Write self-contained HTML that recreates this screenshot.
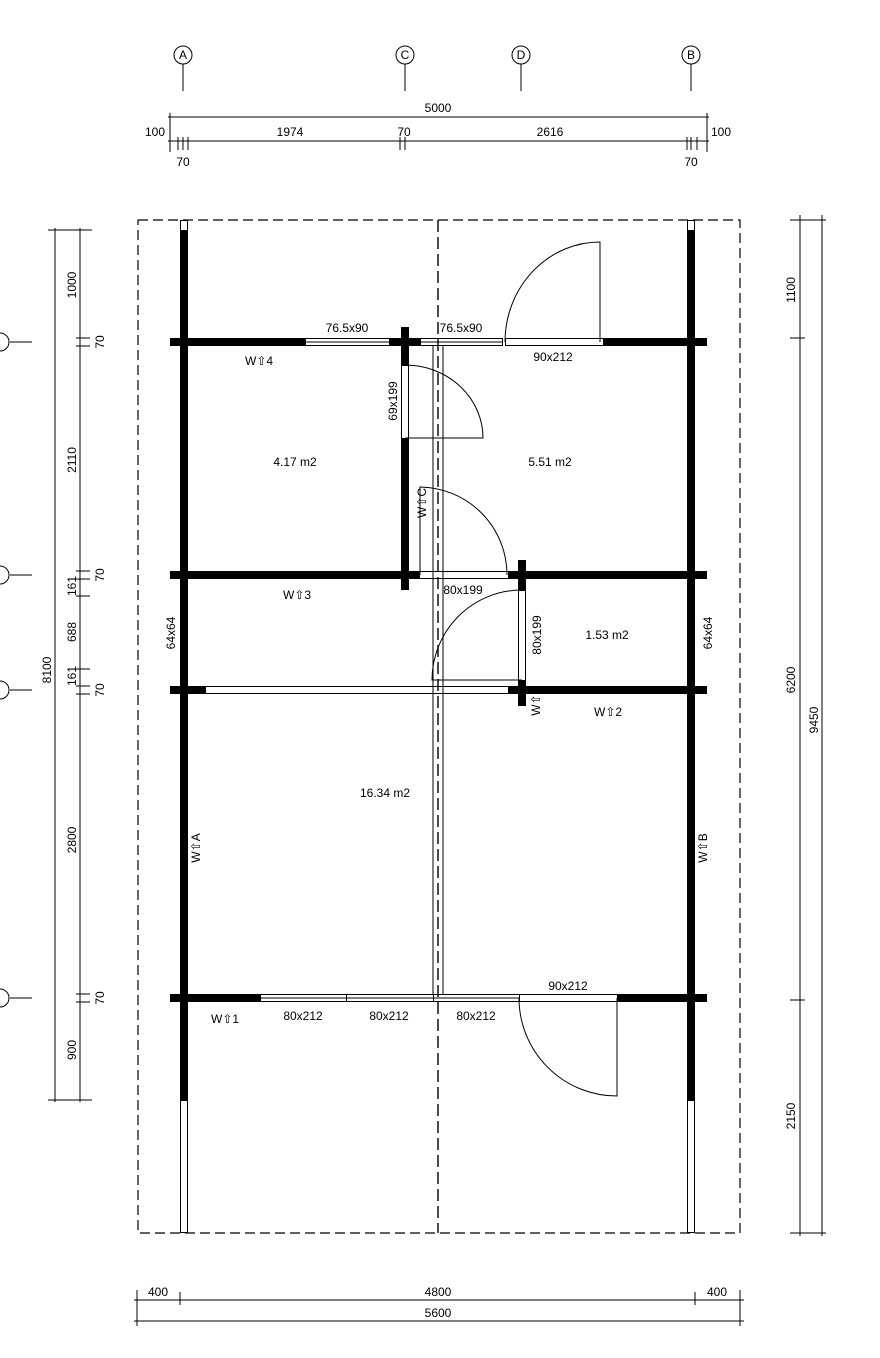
<!DOCTYPE html>
<html><head><meta charset="utf-8"><style>
html,body{margin:0;padding:0;background:#fff}
svg{display:block}
text{font-family:"Liberation Sans Narrow","Liberation Sans",sans-serif;font-size:12px;fill:#000}
</style></head><body>
<svg width="880" height="1358" viewBox="0 0 880 1358" xmlns="http://www.w3.org/2000/svg">
<g fill="none" stroke="#000" stroke-width="1">
<rect x="138" y="220" width="602" height="1013" stroke-dasharray="10,5" stroke-width="1.2"/>
<line x1="438" y1="220" x2="438" y2="1233" stroke-dasharray="12,5" stroke-width="1.4"/>
<line x1="433" y1="346" x2="433" y2="994"/>
<line x1="443" y1="346" x2="443" y2="994"/>
<rect x="180.5" y="220.5" width="7" height="10"/>
<rect x="180.5" y="1100.5" width="7" height="132"/>
<rect x="687.5" y="220.5" width="7" height="10"/>
<rect x="687.5" y="1100.5" width="7" height="132"/>
<rect x="305.5" y="338.5" width="84" height="7"/>
<line x1="305" y1="342" x2="389" y2="342"/>
<rect x="420.5" y="338.5" width="82" height="7"/>
<line x1="420" y1="342" x2="502" y2="342"/>
<rect x="505.5" y="338.5" width="98" height="7"/>
<rect x="401.5" y="365.5" width="7" height="73"/>
<rect x="419.5" y="571.5" width="89" height="7"/>
<rect x="518.5" y="590.5" width="7" height="90"/>
<rect x="205.5" y="686.5" width="303" height="7"/>
<rect x="180.5" y="597.5" width="7" height="71"/>
<line x1="184" y1="597" x2="184" y2="668"/>
<rect x="687.5" y="598.5" width="7" height="70"/>
<line x1="691" y1="598" x2="691" y2="668"/>
<rect x="260.5" y="994.5" width="86" height="7"/><line x1="260" y1="998" x2="346" y2="998"/>
<rect x="346.5" y="994.5" width="87" height="7"/><line x1="346" y1="998" x2="433" y2="998"/>
<rect x="433.5" y="994.5" width="86" height="7"/><line x1="433" y1="998" x2="519" y2="998"/>
<rect x="519.5" y="994.5" width="98" height="7"/>
<path d="M505 342 A95 100 0 0 1 600 242 L600 342"/>
<path d="M405 438 L483 438 A78 73 0 0 0 405 365"/>
<path d="M420 575 L420 487 A88 88 0 0 1 507 575"/>
<path d="M522 590 A90 90 0 0 0 432 680 L522 680"/>
<path d="M519 998 A98 98 0 0 0 617 1096 L617 998"/>
</g>
<g fill="#000">
<rect x="180" y="230" width="8" height="870"/>
<rect x="687" y="230" width="8" height="870"/>
<rect x="170" y="338" width="135" height="8"/>
<rect x="389" y="338" width="31" height="8"/>
<rect x="603" y="338" width="104" height="8"/>
<rect x="401" y="327" width="8" height="38"/>
<rect x="401" y="438" width="8" height="152"/>
<rect x="170" y="571" width="249" height="8"/>
<rect x="508" y="571" width="199" height="8"/>
<rect x="518" y="560" width="8" height="30"/>
<rect x="518" y="680" width="8" height="26"/>
<rect x="170" y="686" width="35" height="8"/>
<rect x="508" y="686" width="199" height="8"/>
<rect x="170" y="994" width="90" height="8"/>
<rect x="617" y="994" width="90" height="8"/>
</g>
<text x="295" y="466" text-anchor="middle" font-size="13">4.17 m2</text>
<text x="550" y="466" text-anchor="middle" font-size="13">5.51 m2</text>
<text x="607" y="639" text-anchor="middle" font-size="13">1.53 m2</text>
<text x="385" y="797" text-anchor="middle" font-size="13">16.34 m2</text>
<text x="347" y="332" text-anchor="middle">76.5x90</text>
<text x="461" y="332" text-anchor="middle">76.5x90</text>
<text x="553" y="361" text-anchor="middle">90x212</text>
<text x="463" y="594" text-anchor="middle">80x199</text>
<text x="303" y="1020" text-anchor="middle">80x212</text>
<text x="389" y="1020" text-anchor="middle">80x212</text>
<text x="476" y="1020" text-anchor="middle">80x212</text>
<text x="568" y="990" text-anchor="middle">90x212</text>
<text transform="translate(397,401) rotate(-90)" text-anchor="middle">69x199</text>
<text transform="translate(541,635) rotate(-90)" text-anchor="middle">80x199</text>
<text transform="translate(175,633) rotate(-90)" text-anchor="middle">64x64</text>
<text transform="translate(712,633) rotate(-90)" text-anchor="middle">64x64</text>
<text x="245" y="365">W⇧4</text>
<text x="283" y="599">W⇧3</text>
<text x="594" y="716">W⇧2</text>
<text x="211" y="1023">W⇧1</text>
<text transform="translate(200,848) rotate(-90)" text-anchor="middle">W⇧A</text>
<text transform="translate(707,848) rotate(-90)" text-anchor="middle">W⇧B</text>
<text transform="translate(426,503) rotate(-90)" text-anchor="middle">W⇧C</text>
<text transform="translate(540,705) rotate(-90)" text-anchor="middle">W⇧</text>
<g fill="none" stroke="#000" stroke-width="1">
<circle cx="183" cy="55" r="9"/><circle cx="405" cy="55" r="9"/><circle cx="521" cy="55" r="9"/><circle cx="691" cy="55" r="9"/>
<line x1="183" y1="64" x2="183" y2="91"/><line x1="405" y1="64" x2="405" y2="91"/><line x1="521" y1="64" x2="521" y2="91"/><line x1="691" y1="64" x2="691" y2="91"/>
<line x1="168" y1="117" x2="709" y2="117"/>
<line x1="168" y1="141" x2="709" y2="141"/>
<line x1="170" y1="113" x2="170" y2="152"/><line x1="707" y1="113" x2="707" y2="152"/>
<line x1="178" y1="137" x2="178" y2="150"/><line x1="183" y1="137" x2="183" y2="150"/><line x1="188" y1="137" x2="188" y2="150"/>
<line x1="400" y1="137" x2="400" y2="150"/><line x1="405" y1="137" x2="405" y2="150"/>
<line x1="687" y1="137" x2="687" y2="150"/><line x1="691" y1="137" x2="691" y2="150"/><line x1="697" y1="137" x2="697" y2="150"/>
<line x1="55" y1="228" x2="55" y2="1102"/>
<line x1="80" y1="228" x2="80" y2="1102"/>
<line x1="48" y1="230" x2="92" y2="230"/><line x1="48" y1="1100" x2="92" y2="1100"/>
<line x1="76" y1="338" x2="90" y2="338"/><line x1="76" y1="346" x2="90" y2="346"/>
<line x1="76" y1="571" x2="90" y2="571"/><line x1="76" y1="579" x2="90" y2="579"/>
<line x1="76" y1="596" x2="90" y2="596"/><line x1="76" y1="669" x2="90" y2="669"/>
<line x1="76" y1="686" x2="90" y2="686"/><line x1="76" y1="694" x2="90" y2="694"/>
<line x1="76" y1="994" x2="90" y2="994"/><line x1="76" y1="1002" x2="90" y2="1002"/>
<line x1="10" y1="342" x2="32" y2="342"/><line x1="10" y1="575" x2="32" y2="575"/><line x1="10" y1="690" x2="32" y2="690"/><line x1="10" y1="998" x2="32" y2="998"/>
<circle cx="0" cy="342" r="9"/><circle cx="0" cy="575" r="9"/><circle cx="0" cy="690" r="9"/><circle cx="0" cy="998" r="9"/>
<line x1="800" y1="215" x2="800" y2="1236"/>
<line x1="822" y1="215" x2="822" y2="1236"/>
<line x1="790" y1="220" x2="826" y2="220"/><line x1="790" y1="1233" x2="826" y2="1233"/>
<line x1="790" y1="338" x2="805" y2="338"/><line x1="790" y1="1000" x2="805" y2="1000"/>
<line x1="134" y1="1300" x2="744" y2="1300"/>
<line x1="134" y1="1321" x2="744" y2="1321"/>
<line x1="137" y1="1290" x2="137" y2="1326"/><line x1="740" y1="1290" x2="740" y2="1326"/>
<line x1="180" y1="1292" x2="180" y2="1305"/><line x1="695" y1="1292" x2="695" y2="1305"/>
</g>
<text x="183" y="59" text-anchor="middle" font-size="11">A</text>
<text x="405" y="59" text-anchor="middle" font-size="11">C</text>
<text x="521" y="59" text-anchor="middle" font-size="11">D</text>
<text x="691" y="59" text-anchor="middle" font-size="11">B</text>
<text x="438" y="112" text-anchor="middle">5000</text>
<text x="155" y="136" text-anchor="middle">100</text>
<text x="721" y="136" text-anchor="middle">100</text>
<text x="290" y="136" text-anchor="middle">1974</text>
<text x="404" y="136" text-anchor="middle">70</text>
<text x="550" y="136" text-anchor="middle">2616</text>
<text x="183" y="166" text-anchor="middle">70</text>
<text x="691" y="166" text-anchor="middle">70</text>
<text transform="translate(76,285) rotate(-90)" text-anchor="middle">1000</text>
<text transform="translate(104,342) rotate(-90)" text-anchor="middle">70</text>
<text transform="translate(76,460) rotate(-90)" text-anchor="middle">2110</text>
<text transform="translate(104,575) rotate(-90)" text-anchor="middle">70</text>
<text transform="translate(76,586) rotate(-90)" text-anchor="middle">161</text>
<text transform="translate(76,632) rotate(-90)" text-anchor="middle">688</text>
<text transform="translate(76,676) rotate(-90)" text-anchor="middle">161</text>
<text transform="translate(104,690) rotate(-90)" text-anchor="middle">70</text>
<text transform="translate(51,670) rotate(-90)" text-anchor="middle">8100</text>
<text transform="translate(76,840) rotate(-90)" text-anchor="middle">2800</text>
<text transform="translate(104,998) rotate(-90)" text-anchor="middle">70</text>
<text transform="translate(76,1050) rotate(-90)" text-anchor="middle">900</text>
<text transform="translate(795,290) rotate(-90)" text-anchor="middle">1100</text>
<text transform="translate(795,680) rotate(-90)" text-anchor="middle">6200</text>
<text transform="translate(795,1116) rotate(-90)" text-anchor="middle">2150</text>
<text transform="translate(818,720) rotate(-90)" text-anchor="middle">9450</text>
<text x="158" y="1296" text-anchor="middle">400</text>
<text x="438" y="1296" text-anchor="middle">4800</text>
<text x="717" y="1296" text-anchor="middle">400</text>
<text x="438" y="1317" text-anchor="middle">5600</text>
</svg>
</body></html>
